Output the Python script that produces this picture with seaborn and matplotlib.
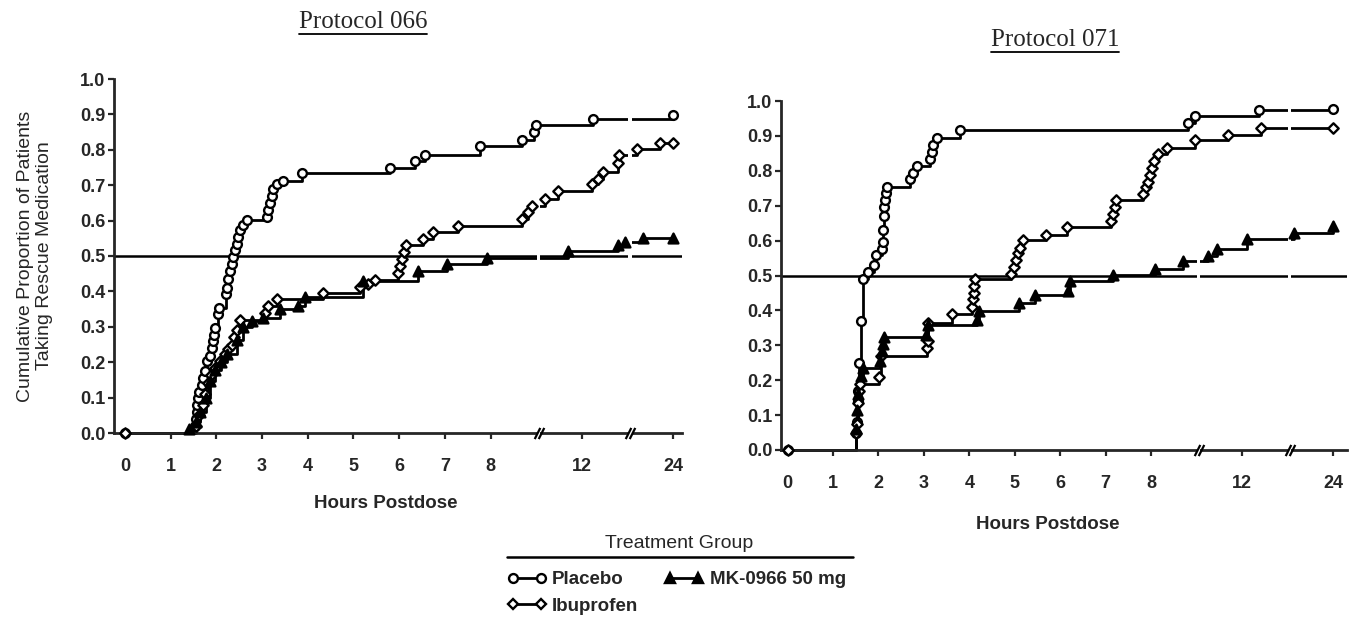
import numpy as np
import pandas as pd
import matplotlib
matplotlib.use("Agg")
import matplotlib.pyplot as plt
from matplotlib.lines import Line2D
import seaborn as sns

# ---------------- data (hours postdose, cumulative proportion) ----------------
groups = ["Placebo", "Ibuprofen", "MK-0966 50 mg"]
x_ticks = [0, 1, 2, 3, 4, 5, 6, 7, 8, 12, 24]
y_ticks = [0.0, 0.1, 0.2, 0.3, 0.4, 0.5, 0.6, 0.7, 0.8, 0.9, 1.0]
reference_level = 0.5

p066_placebo_h = [0, 1.53, 1.55, 1.57, 1.58, 1.60, 1.62, 1.68, 1.70, 1.75, 1.79, 1.86, 1.90, 1.93,
                  1.95, 1.97, 2.04, 2.06, 2.21, 2.23, 2.25, 2.30, 2.34, 2.36, 2.41, 2.45, 2.47,
                  2.52, 2.58, 2.67, 3.10, 3.13, 3.17, 3.22, 3.24, 3.33, 3.46, 3.87, 5.80, 6.35,
                  6.56, 7.77, 9.38, 9.90, 9.97, 13.4, 24]
p066_placebo_v = [0.0, 0.02, 0.04, 0.06, 0.078, 0.098, 0.116, 0.136, 0.154, 0.174, 0.203, 0.217,
                  0.241, 0.26, 0.278, 0.297, 0.335, 0.354, 0.392, 0.411, 0.435, 0.458, 0.478,
                  0.497, 0.516, 0.535, 0.554, 0.574, 0.588, 0.602, 0.61, 0.631, 0.65, 0.67, 0.689,
                  0.704, 0.713, 0.735, 0.749, 0.768, 0.786, 0.81, 0.827, 0.849, 0.869, 0.887, 0.897]

p066_ibuprofen_h = [0, 1.55, 1.62, 1.70, 1.76, 1.82, 1.88, 1.97, 2.08, 2.19, 2.25, 2.34, 2.38, 2.45,
                    2.52, 3.06, 3.13, 3.33, 4.33, 5.14, 5.32, 5.47, 5.97, 6.02, 6.06, 6.10, 6.14,
                    6.52, 6.74, 7.29, 9.38, 9.64, 9.80, 10.36, 10.94, 13.3, 14.1, 14.76, 16.74,
                    16.9, 19.2, 22.2, 24]
p066_ibuprofen_v = [0.0, 0.02, 0.05, 0.08, 0.11, 0.14, 0.165, 0.183, 0.204, 0.222, 0.236, 0.25,
                    0.27, 0.29, 0.318, 0.338, 0.358, 0.378, 0.396, 0.413, 0.422, 0.431, 0.453,
                    0.472, 0.492, 0.511, 0.53, 0.548, 0.568, 0.586, 0.604, 0.624, 0.642, 0.662,
                    0.685, 0.703, 0.717, 0.738, 0.762, 0.784, 0.802, 0.819, 0.82]

p066_mk_h = [0, 1.40, 1.55, 1.65, 1.77, 1.86, 1.97, 2.10, 2.23, 2.45, 2.58, 2.78, 3.02, 3.39, 3.79,
             3.94, 5.21, 6.41, 7.05, 7.92, 11.38, 16.74, 17.64, 19.98, 24]
p066_mk_v = [0.0, 0.01, 0.03, 0.06, 0.098, 0.148, 0.178, 0.20, 0.222, 0.262, 0.30, 0.315, 0.324,
             0.35, 0.36, 0.384, 0.43, 0.459, 0.477, 0.494, 0.514, 0.53, 0.54, 0.551, 0.552]

p071_placebo_h = [0, 1.50, 1.52, 1.54, 1.56, 1.58, 1.61, 1.66, 1.77, 1.90, 1.95, 2.08, 2.10, 2.11,
                  2.12, 2.13, 2.15, 2.17, 2.19, 2.70, 2.76, 2.85, 3.13, 3.18, 3.20, 3.29, 3.80,
                  9.62, 9.95, 14.2, 24]
p071_placebo_v = [0.0, 0.05, 0.08, 0.14, 0.17, 0.25, 0.37, 0.49, 0.51, 0.53, 0.56, 0.575, 0.595,
                  0.63, 0.67, 0.695, 0.715, 0.735, 0.755, 0.776, 0.793, 0.813, 0.835, 0.855,
                  0.875, 0.893, 0.918, 0.937, 0.957, 0.975, 0.976]

p071_ibuprofen_h = [0, 1.50, 1.52, 1.55, 1.57, 1.60, 2.02, 2.05, 3.07, 3.08, 3.09, 3.62, 4.06,
                    4.08, 4.10, 4.11, 4.13, 4.91, 4.98, 5.03, 5.08, 5.12, 5.19, 5.69, 6.15, 7.12,
                    7.16, 7.20, 7.23, 7.83, 7.88, 7.92, 7.97, 8.04, 8.14, 8.28, 8.70, 9.95,
                    11.36, 14.5, 24]
p071_ibuprofen_v = [0.0, 0.05, 0.075, 0.135, 0.17, 0.19, 0.208, 0.27, 0.292, 0.312, 0.365, 0.389,
                    0.41, 0.432, 0.451, 0.47, 0.49, 0.504, 0.524, 0.544, 0.564, 0.578, 0.603,
                    0.616, 0.64, 0.656, 0.676, 0.696, 0.716, 0.734, 0.753, 0.768, 0.788, 0.808,
                    0.827, 0.848, 0.865, 0.887, 0.904, 0.924, 0.924]

p071_mk_h = [0, 1.50, 1.52, 1.56, 1.61, 1.66, 2.04, 2.08, 2.11, 2.13, 3.04, 3.08, 4.17, 4.22,
             5.10, 5.44, 6.17, 6.21, 7.16, 8.16, 9.40, 10.5, 10.9, 12.66, 18.9, 24]
p071_mk_v = [0.0, 0.06, 0.115, 0.16, 0.213, 0.234, 0.256, 0.285, 0.305, 0.324, 0.33, 0.358,
             0.373, 0.397, 0.42, 0.443, 0.455, 0.483, 0.502, 0.519, 0.542, 0.557, 0.577,
             0.604, 0.623, 0.641]

series = {
    ("066", "Placebo"): (p066_placebo_h, p066_placebo_v),
    ("066", "Ibuprofen"): (p066_ibuprofen_h, p066_ibuprofen_v),
    ("066", "MK-0966 50 mg"): (p066_mk_h, p066_mk_v),
    ("071", "Placebo"): (p071_placebo_h, p071_placebo_v),
    ("071", "Ibuprofen"): (p071_ibuprofen_h, p071_ibuprofen_v),
    ("071", "MK-0966 50 mg"): (p071_mk_h, p071_mk_v),
}
rows = []
for (proto, grp), (hh, vv) in series.items():
    for i, (h, v) in enumerate(zip(hh, vv)):
        rows.append({"protocol": proto, "group": grp, "hours": h, "value": v, "idx": i})
df = pd.DataFrame(rows)

# ---------------- styling ----------------
sns.set_style("ticks")
plt.rcParams["font.family"] = ["Liberation Sans", "DejaVu Sans"]
plt.rcParams["axes.linewidth"] = 2.0

marker_style = {
    "Placebo": dict(marker="o", s=40, facecolor="white"),
    "Ibuprofen": dict(marker="D", s=28, facecolor="white"),
    "MK-0966 50 mg": dict(marker="^", s=50, facecolor="black"),
}


def fwd(h):
    h = np.asarray(h, dtype=float)
    return np.where(h <= 8, h, np.where(h <= 12, 8 + (h - 8) / 2.0, 10 + (h - 12) / 6.0))


def inv(p):
    p = np.asarray(p, dtype=float)
    return np.where(p <= 8, p, np.where(p <= 10, 8 + (p - 8) * 2.0, 12 + (p - 10) * 6.0))


W, H = 1355, 618
fig = plt.figure(figsize=(W / 100, H / 100), dpi=100)
fig.patch.set_facecolor("white")

ax_rects = {
    "066": [113.6 / W, (H - 433) / H, (682.5 - 113.6) / W, 354 / H],
    "071": [780.7 / W, (H - 450) / H, (1346.6 - 780.7) / W, 349 / H],
}
xlims = {"066": (-0.25, 12.2), "071": (-0.15, 12.3)}
titles = {"066": (363 / W, 1 - 22 / H), "071": (1055 / W, 1 - 40 / H)}
breaks = [9.05, 11.05]

axes = {}
title_texts = []
for proto in ["066", "071"]:
    ax = fig.add_axes(ax_rects[proto])
    axes[proto] = ax
    ax.set_xscale("function", functions=(fwd, inv))
    for grp in groups:
        d = df[(df.protocol == proto) & (df.group == grp)]
        sns.lineplot(data=d, x="hours", y="value", ax=ax, color="black", linewidth=2.0,
                     drawstyle="steps-post", estimator=None, legend=False, zorder=2,
                     clip_on=False)
        dm = d if grp != "MK-0966 50 mg" else d[d.idx > 0]
        st = marker_style[grp]
        sns.scatterplot(data=dm, x="hours", y="value", ax=ax, marker=st["marker"], s=st["s"],
                        color=st["facecolor"], edgecolor="black", linewidth=1.7, zorder=4,
                        legend=False, clip_on=False)
    ax.axhline(reference_level, color="black", lw=1.8, zorder=1.5)

    lo, hi = xlims[proto]
    ax.set_xlim(float(inv(lo)), float(inv(hi)))
    ax.set_ylim(0, 1.0)
    ax.set_xticks(x_ticks)
    ax.set_xticklabels([str(t) for t in x_ticks], fontweight="bold")
    ax.set_yticks(y_ticks)
    ax.set_yticklabels([f"{t:.1f}" for t in y_ticks], fontweight="bold")
    ax.minorticks_off()
    ax.tick_params(axis="x", length=4, width=1.6, pad=14, labelsize=13, direction="out")
    ax.tick_params(axis="y", length=4, width=1.6, pad=2, labelsize=13, direction="out")
    sns.despine(ax=ax)

    # axis breaks
    for b in breaks:
        ax.axvspan(float(inv(b - 0.035)), float(inv(b + 0.035)), ymin=-0.012, ymax=1.0,
                   color="white", zorder=3, clip_on=False, lw=0)
        ax.plot([float(inv(b - 0.045)), float(inv(b + 0.045))], [0, 0], ls="none",
                marker=[(-1, -2), (1, 2)], ms=8, mew=1.6, color="black", clip_on=False, zorder=5)

    ax.set_xlabel("Hours Postdose", fontsize=13.5, fontweight="bold")
    ax.set_ylabel("")
    t = fig.text(titles[proto][0], titles[proto][1], "Protocol " + proto,
                 ha="center", va="center", fontsize=18, family="Liberation Serif")
    title_texts.append(t)

axes["066"].xaxis.set_label_coords(0.479, -0.174)
axes["071"].xaxis.set_label_coords(0.472, -0.19)
axes["066"].set_ylabel("Cumulative Proportion of Patients\nTaking Rescue Medication", fontsize=14,
                       linespacing=1.2)
axes["066"].yaxis.set_label_coords(-0.106, 0.5)

# legend
handles = []
for grp, mk, ms, fc in [("Placebo", "o", 6.4, "white"), ("Ibuprofen", "D", 5.4, "white"),
                        ("MK-0966 50 mg", "^", 7.2, "black")]:
    handles.append(Line2D([], [], color="black", lw=2.0, marker=mk, ms=ms, mfc=fc, mec="black",
                          mew=1.7, label=grp))
leg = fig.legend(handles=handles, loc="upper center", bbox_to_anchor=(0.4993, 1 - 562 / H), ncol=2,
                 frameon=False, prop={"size": 13.5, "weight": "bold"},
                 numpoints=2, handlelength=2.1, handletextpad=0.3, columnspacing=1.4,
                 labelspacing=0.5, borderpad=0)
fig.text(679 / W, 1 - 543 / H, "Treatment Group", ha="center", va="center", fontsize=14)
fig.add_artist(Line2D([507 / W, 853 / W], [1 - 557 / H, 1 - 557 / H], color="black", lw=1.8))

# underline the panel titles
fig.canvas.draw()
renderer = fig.canvas.get_renderer()
for t in title_texts:
    bb = t.get_window_extent(renderer).transformed(fig.transFigure.inverted())
    fig.add_artist(Line2D([bb.x0, bb.x1], [bb.y0 - 0.002, bb.y0 - 0.002], color="black", lw=1.3))

fig.savefig("out.png", dpi=100, facecolor="white")
